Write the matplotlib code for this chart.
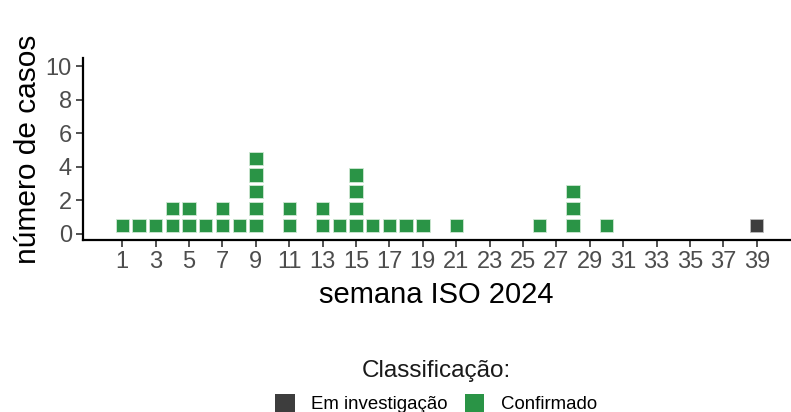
import numpy as np
import matplotlib.pyplot as plt
from matplotlib.patches import Patch

plt.rcParams["font.family"] = ["Liberation Sans", "DejaVu Sans"]

# cases per ISO week
weeks_conf = [1, 2, 3, 4, 5, 6, 7, 8, 9, 11, 13, 14, 15, 16, 17, 18, 19, 21, 26, 28, 30]
counts_conf = [1, 1, 1, 2, 2, 1, 2, 1, 5, 2, 2, 1, 4, 1, 1, 1, 1, 1, 1, 3, 1]
weeks_inv = [39]
counts_inv = [1]

week_ticks = list(range(1, 40, 2))
y_ticks = [0, 2, 4, 6, 8, 10]

col_conf = "#2a9446"
col_inv = "#3d3d3d"
tick_col = "#4d4d4d"

fig = plt.figure(figsize=(7.91, 4.12), dpi=100)
ax = fig.add_axes([0.105, 0.4175, 0.894, 0.4415])


def draw_stack(weeks, counts, color):
    # one square per case, stacked
    for w, c in zip(weeks, counts):
        for k in range(c):
            ax.bar(w, 0.8, bottom=k + 0.12, width=0.8, color=color,
                   edgecolor="#cfe8d4" if color == col_conf else "#bbbbbb",
                   linewidth=0.6)


draw_stack(weeks_inv, counts_inv, col_inv)
draw_stack(weeks_conf, counts_conf, col_conf)

ax.set_xlim(-1.35, 41)
ax.set_ylim(-0.36, 10.5)
ax.set_xticks(week_ticks)
ax.set_xticklabels([str(w) for w in week_ticks])
ax.set_yticks(y_ticks)

for side in ["top", "right"]:
    ax.spines[side].set_visible(False)
for side in ["left", "bottom"]:
    ax.spines[side].set_linewidth(1.6)
    ax.spines[side].set_color("black")

ax.tick_params(axis="both", colors="#333333", length=5, width=1.2,
               labelsize=17, labelcolor=tick_col, pad=3)

ax.set_xlabel("semana ISO 2024", fontsize=21, labelpad=6)
ax.set_ylabel("número de casos", fontsize=21.5, labelpad=3)

handles = [Patch(facecolor=col_inv, edgecolor="none", label="Em investigação"),
           Patch(facecolor=col_conf, edgecolor="none", label="Confirmado")]
leg = fig.legend(handles=handles, title="Classificação:", ncol=2,
                 loc="lower center", bbox_to_anchor=(436 / 791, -0.035),
                 frameon=False, fontsize=13.4, title_fontsize=17.5,
                 handlelength=1.05, handleheight=1.05, handletextpad=0.9,
                 columnspacing=0.9, borderpad=0.2)
leg.get_title().set_color("#1a1a1a")
leg._legend_box.sep = 9

fig.savefig("out.png", dpi=100)
